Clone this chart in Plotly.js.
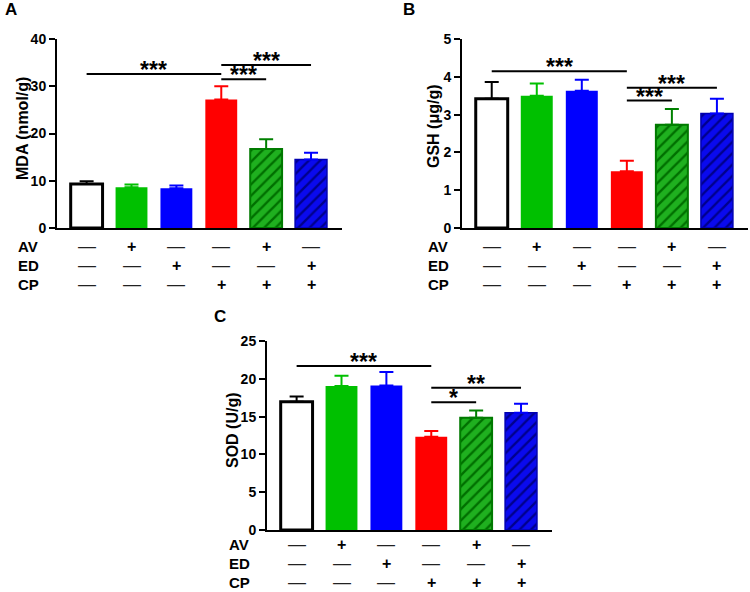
<!DOCTYPE html>
<html>
<head>
<meta charset="utf-8">
<script src="https://cdn.plot.ly/plotly-3.0.1.min.js"></script>
<style>html,body{margin:0;padding:0;background:#fff}#chart{width:750px;height:592px}</style>
</head>
<body>
<div id="chart"></div>
<script>
// ---- data ----
const categories = ['Control', 'AV', 'ED', 'CP', 'AV+CP', 'ED+CP'];
const rowLabels = ['AV', 'ED', 'CP'];
const AV = ['—', '+', '—', '—', '+', '—'];
const ED = ['—', '—', '+', '—', '—', '+'];
const CP = ['—', '—', '—', '+', '+', '+'];

const mdaMean = [9.3, 8.6, 8.4, 27.2, 16.7, 14.5];
const mdaErr  = [0.6, 0.6, 0.6, 2.8, 2.1, 1.4];
const gshMean = [3.42, 3.50, 3.63, 1.50, 2.73, 3.03];
const gshErr  = [0.44, 0.32, 0.29, 0.28, 0.42, 0.39];
const sodMean = [16.97, 19.05, 19.10, 12.35, 14.86, 15.50];
const sodErr  = [0.70, 1.35, 1.80, 0.75, 0.95, 1.20];

// significance brackets: [fromIndex, toIndex, level, stars]
const mdaSig = [[0, 3, 32.6, '***'], [3, 4, 31.5, '***'], [3, 5, 34.5, '***']];
const gshSig = [[0, 3, 4.15, '***'], [3, 4, 3.37, '***'], [3, 5, 3.71, '***']];
const sodSig = [[0, 3, 21.7, '***'], [3, 4, 16.9, '*'], [3, 5, 18.8, '**']];

// ---- styles ----
const fills   = ['#ffffff', '#00c000', '#0000ff', '#ff0000', '#1fb01f', '#0a0aee'];
const borders = ['#000000', '#00c000', '#0000ff', '#ff0000', '#007a00', '#0000b0'];
const bwidth  = [3, 0, 0, 0, 2, 1.5];
const errCol  = ['#000000', '#00c000', '#0000ff', '#ff0000', '#008000', '#0000ff'];
const pattern = [null, null, null, null,
  {shape: '/', fgcolor: '#006f00', bgcolor: '#1fb01f', size: 8, solidity: 0.3},
  {shape: '/', fgcolor: '#00008c', bgcolor: '#0a0aee', size: 8, solidity: 0.3}];

const W = 750, H = 592;
const FONT = 'Liberation Sans, Arial, sans-serif';

const panels = [
  {mean: mdaMean, err: mdaErr, sig: mdaSig, ax: '', title: 'MDA (nmol/g)', range: [0, 40], dtick: 10,
   xdom: [57, 342], ytop: 39, ybot: 228, letter: 'A', lx: 3, ly: 10, rowX: 16, rowY: [246, 265, 284],
   tx: 23, ty: 129},
  {mean: gshMean, err: gshErr, sig: gshSig, ax: '2', title: 'GSH (μg/g)', range: [0, 5], dtick: 1,
   xdom: [462, 748], ytop: 39, ybot: 228, letter: 'B', lx: 401, ly: 10, rowX: 426, rowY: [246, 265, 284],
   tx: 433, ty: 126},
  {mean: sodMean, err: sodErr, sig: sodSig, ax: '3', title: 'SOD (U/g)', range: [0, 25], dtick: 5,
   xdom: [267, 552], ytop: 341, ybot: 530, letter: 'C', lx: 212, ly: 316, rowX: 227, rowY: [544, 563, 582],
   tx: 232, ty: 430}
];

const traces = [];
const layout = {
  width: W, height: H,
  margin: {l: 0, r: 0, t: 0, b: 0},
  paper_bgcolor: '#ffffff', plot_bgcolor: '#ffffff',
  showlegend: false, barmode: 'overlay',
  font: {family: FONT, color: '#000', size: 14},
  shapes: [], annotations: []
};

panels.forEach(p => {
  const xa = 'x' + p.ax, ya = 'y' + p.ax;
  categories.forEach((c, i) => {
    const t = {
      type: 'bar', x: [i], y: [p.mean[i]], width: 0.71, name: c,
      xaxis: xa, yaxis: ya, hoverinfo: 'y',
      marker: {color: fills[i], line: {color: borders[i], width: bwidth[i]}},
      error_y: {type: 'data', symmetric: false, array: [p.err[i]], arrayminus: [0],
                color: errCol[i], thickness: 2, width: 7}
    };
    if (pattern[i]) t.marker.pattern = pattern[i];
    traces.push(t);
  });
  layout['xaxis' + p.ax] = {
    domain: [p.xdom[0] / W, p.xdom[1] / W], anchor: ya, range: [-0.66, 5.69],
    showline: true, linewidth: 2, linecolor: '#000', showticklabels: false, ticks: '',
    showgrid: false, zeroline: false, fixedrange: true, automargin: false
  };
  layout['yaxis' + p.ax] = {
    domain: [1 - p.ybot / H, 1 - p.ytop / H], anchor: xa, range: p.range, dtick: p.dtick,
    showline: true, linewidth: 2, linecolor: '#000', ticks: 'outside', ticklen: 6, tickwidth: 2,
    tickcolor: '#000', showgrid: false, zeroline: false, fixedrange: true, automargin: false,
    tickfont: {family: FONT, size: 14, weight: 'bold', color: '#000'}
  };
  // y-axis title
  layout.annotations.push({xref: 'paper', yref: 'paper', x: p.tx / W, y: 1 - p.ty / H, text: p.title,
    textangle: -90, showarrow: false, xanchor: 'center', yanchor: 'middle',
    font: {family: FONT, size: 16, weight: 'bold', color: '#000'}});
  // significance brackets
  p.sig.forEach(s => {
    layout.shapes.push({type: 'line', xref: xa, yref: ya, x0: s[0], x1: s[1], y0: s[2], y1: s[2],
      line: {color: '#000', width: 2}});
    layout.annotations.push({xref: xa, yref: ya, x: (s[0] + s[1]) / 2, y: s[2], text: s[3],
      showarrow: false, yanchor: 'bottom', yshift: -11,
      font: {family: FONT, size: 23, weight: 'bold', color: '#000'}});
  });
  // panel letter
  layout.annotations.push({xref: 'paper', yref: 'paper', x: p.lx / W, y: 1 - p.ly / H, text: p.letter,
    showarrow: false, xanchor: 'left', yanchor: 'middle',
    font: {family: FONT, size: 17, weight: 'bold', color: '#000'}});
  // treatment table
  [AV, ED, CP].forEach((row, r) => {
    const yp = 1 - p.rowY[r] / H;
    layout.annotations.push({xref: 'paper', yref: 'paper', x: p.rowX / W, y: yp, text: rowLabels[r],
      showarrow: false, xanchor: 'left', yanchor: 'middle',
      font: {family: FONT, size: 15, weight: 'bold', color: '#000'}});
    row.forEach((sym, i) => {
      layout.annotations.push({xref: xa, yref: 'paper', x: i, y: yp, text: sym,
        showarrow: false, xanchor: 'center', yanchor: 'middle',
        font: sym === '+' ? {family: FONT, size: 16, weight: 'bold', color: '#000'}
                          : {family: FONT, size: 18, color: '#222'}});
    });
  });
});

Plotly.newPlot('chart', traces, layout, {staticPlot: true, displayModeBar: false});
</script>
</body>
</html>
